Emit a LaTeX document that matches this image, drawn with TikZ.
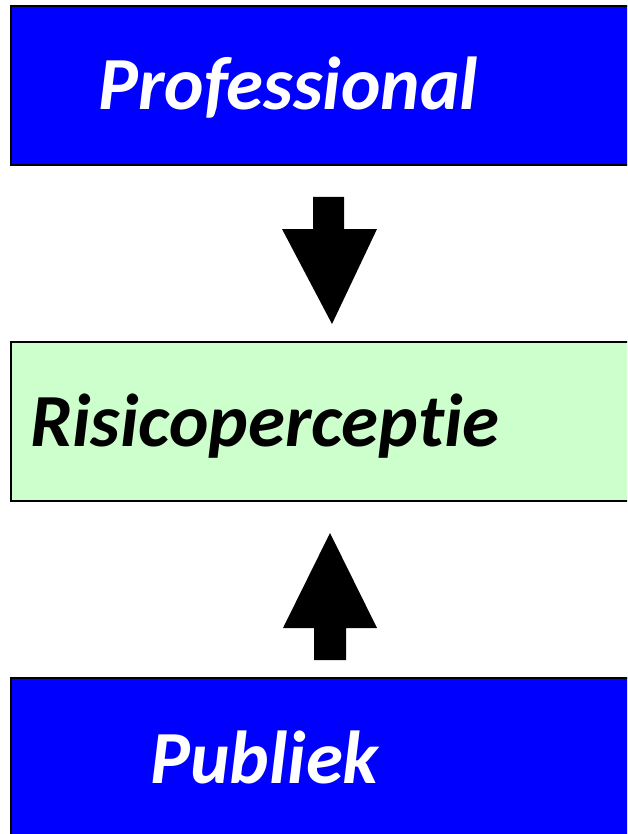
\documentclass[tikz,border=0pt]{standalone}
\usepackage{fontspec}
\setmainfont[Ligatures=NoCommon]{Carlito}
\usetikzlibrary{positioning}
\definecolor{paleGreen}{HTML}{CCFFCC}
\tikzset{box/.style={draw=black, line width=2pt, anchor=north west, minimum width=640pt, minimum height=159pt, inner sep=0pt}}
\tikzset{lbl/.style={anchor=base west, inner sep=0pt, font=\fontsize{75}{75}\selectfont\bfseries\itshape}}
\tikzset{blok/.style={fill=black, draw=none}}

\begin{document}
\begin{tikzpicture}[x=1pt,y=-1pt]
        \useasboundingbox (0,0) rectangle (627,834);
        \clip (0,0) rectangle (627,834);

        \node[box, fill=blue] (prof) at (10,5) {};
        \node[box, fill=paleGreen] (risico) at (10,341) {};
        \node[box, fill=blue, minimum height=180pt] (publiek) at (10,677) {};

        \node[lbl, text=white] (profT) at (98,110) {Professional};
        \node[lbl, text=black] (risicoT) at (30,446) {Risicoperceptie};
        \node[lbl, text=white] (publiekT) at (150,783) {Publiek};

        % block arrows
        \coordinate (downTip) at (332,324);
        \coordinate (upTip) at (330,533);
        \fill[blok] (313,197) -- (344,197) -- (344,229) -- (377,229) -- (downTip)
         -- (282,229) -- (313,229) -- cycle;
        \fill[blok] (314,660) -- (346,660) -- (346,628) -- (377,628) -- (upTip)
         -- (283,628) -- (314,628) -- cycle;
\end{tikzpicture}
\end{document}
